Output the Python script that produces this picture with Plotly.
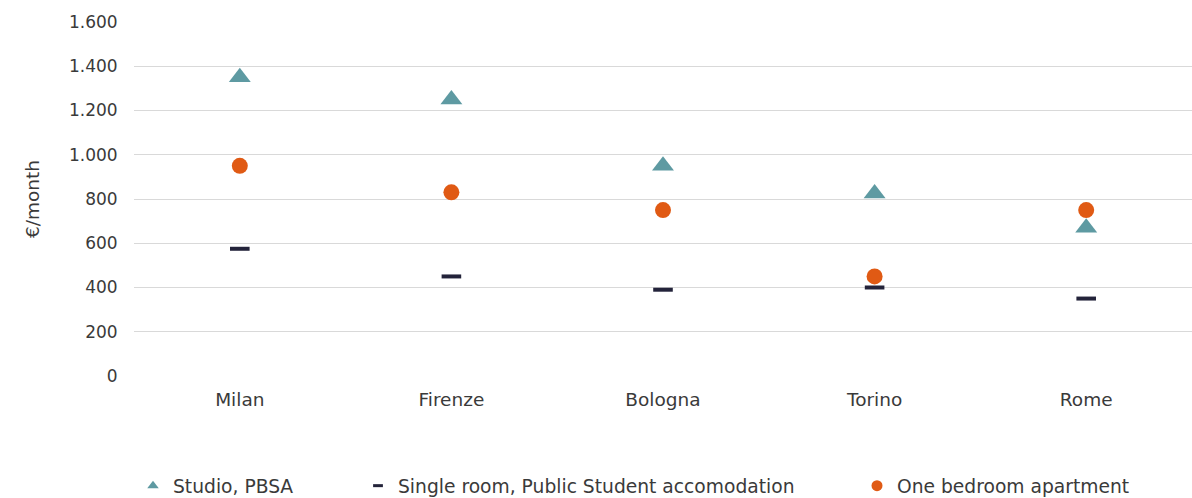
import plotly.graph_objects as go

cities = ["Milan", "Firenze", "Bologna", "Torino", "Rome"]
studio_pbsa = [1350, 1250, 950, 825, 670]
single_room = [575, 450, 390, 400, 350]
one_bedroom = [950, 830, 750, 450, 750]

names = ["Studio, PBSA", "Single room, Public Student accomodation", "One bedroom apartment"]
colors = ["#5E9AA2", "#23233A", "#E05A14"]

FONT = "DejaVu Sans"
TXT = "#3a3a3a"

fig = go.Figure()
# data traces
fig.add_trace(go.Scatter(
    x=cities, y=studio_pbsa, mode="markers", name=names[0], showlegend=False,
    marker=dict(symbol="triangle-up", size=19, color=colors[0])))
fig.add_trace(go.Scatter(
    x=cities, y=single_room, mode="markers", name=names[1], showlegend=False,
    marker=dict(symbol="line-ew", size=14, color=colors[1],
                line=dict(width=4, color=colors[1]))))
fig.add_trace(go.Scatter(
    x=cities, y=one_bedroom, mode="markers", name=names[2], showlegend=False,
    marker=dict(symbol="circle", size=16, color=colors[2])))

# legend entries (small icons, as in the reference)
fig.add_trace(go.Scatter(
    x=[None], y=[None], mode="markers", name=names[0], legend="legend",
    marker=dict(symbol="triangle-up", size=10, color=colors[0])))
fig.add_trace(go.Scatter(
    x=[None], y=[None], mode="markers", name=names[1], legend="legend2",
    marker=dict(symbol="line-ew", size=7, color=colors[1],
                line=dict(width=3, color=colors[1]))))
fig.add_trace(go.Scatter(
    x=[None], y=[None], mode="markers", name=names[2], legend="legend3",
    marker=dict(symbol="circle", size=11, color=colors[2])))

L = 134
T = 22
B = 122
W = 1192 - L
H = 498 - T - B

def lx(px):
    return (px - L) / W

legend_common = dict(orientation="h", yanchor="middle", y=(H + T - 486) / H,
                     xanchor="left",
                     font=dict(family=FONT, size=18.7, color=TXT),
                     bgcolor="rgba(0,0,0,0)", itemwidth=30, tracegroupgap=0)

fig.update_layout(
    width=1192, height=498,
    margin=dict(l=L, r=0, t=T, b=B, autoexpand=False),
    paper_bgcolor="white", plot_bgcolor="white",
    separators=",.",
    font=dict(family=FONT, size=17, color=TXT),
    showlegend=True,
    legend=dict(legend_common, x=lx(133)),
    legend2=dict(legend_common, x=lx(358)),
    legend3=dict(legend_common, x=lx(857)),
    xaxis=dict(
        type="category", range=[-0.5, 4.5], showgrid=False, zeroline=False,
        showline=False, ticks="outside", ticklen=7, tickcolor="rgba(0,0,0,0)",
        tickfont=dict(family=FONT, size=18.5, color=TXT)),
    yaxis=dict(
        range=[0, 1600], dtick=200, tickformat=",d", showgrid=True,
        gridcolor="#D9D9D9", gridwidth=1, zeroline=False, showline=False,
        ticks="outside", ticklen=12, tickcolor="rgba(0,0,0,0)",
        tickfont=dict(family=FONT, size=17, color=TXT),
        title=dict(text="€/month", font=dict(family=FONT, size=18.5, color=TXT), standoff=24)),
)

fig.write_html("out.html")
